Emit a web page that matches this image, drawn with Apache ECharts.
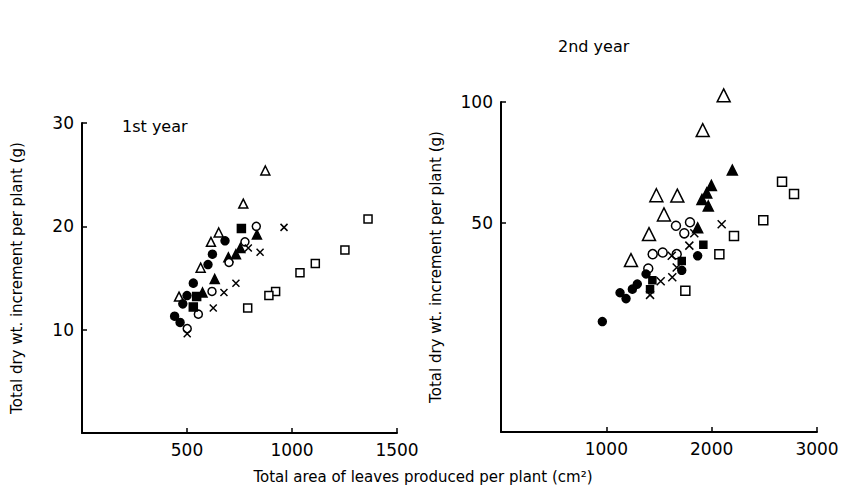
<!DOCTYPE html>
<html>
<head>
<meta charset="utf-8">
<script src="https://cdn.jsdelivr.net/npm/echarts@6/dist/echarts.min.js"></script>
<style>
  html, body { margin: 0; padding: 0; background: #fff; }
  #chart { width: 846px; height: 493px; }
</style>
</head>
<body>
<div id="chart"></div>
<script>
// 1st year: [leaf area cm2, dry wt increment g]
var openTri1 = [[873, 25.4], [768, 22.2], [651, 19.4], [614, 18.5], [565, 16.0], [462, 13.2]];
var fillTri1 = [[833, 19.2], [754, 17.9], [733, 17.3], [697, 17.0], [632, 14.9], [574, 13.6]];
var openCircle1 = [[830, 20.0], [776, 18.5], [700, 16.5], [619, 13.7], [554, 11.5], [501, 10.1]];
var fillCircle1 = [[681, 18.6], [621, 17.3], [600, 16.3], [530, 14.5], [500, 13.3], [480, 12.5], [441, 11.3], [467, 10.7]];
var openSquare1 = [[1362, 20.7], [1252, 17.7], [1111, 16.4], [1038, 15.5], [922, 13.7], [890, 13.3], [789, 12.1]];
var fillSquare1 = [[759, 19.8], [546, 13.2], [530, 12.2]];
var cross1 = [[962, 19.9], [792, 17.9], [848, 17.5], [733, 14.5], [676, 13.6], [625, 12.1], [501, 9.6]];

// 2nd year
var openTri2 = [[2114, 103.9], [1915, 85.1], [1475, 58.5], [1674, 58.4], [1547, 52.4], [1405, 46.8], [1234, 40.3]];
var fillTri2 = [[2196, 67.6], [1997, 61.9], [1953, 59.3], [1908, 57.1], [1968, 55.0], [1867, 48.5]];
var openCircle2 = [[1661, 49.1], [1794, 50.1], [1740, 47.0], [1440, 41.7], [1535, 42.1], [1668, 41.7], [1398, 38.4]];
var fillCircle2 = [[1867, 41.3], [1716, 38.0], [1377, 37.2], [1294, 35.1], [1247, 34.1], [1187, 32.3], [1130, 33.4], [962, 28.3]];
var openSquare2 = [[2668, 63.2], [2782, 58.9], [2490, 50.7], [2212, 46.3], [2073, 41.7], [1750, 33.8]];
var fillSquare2 = [[1921, 44.0], [1716, 40.1], [1437, 35.9], [1415, 34.1]];
var cross2 = [[2095, 49.5], [1835, 47.0], [1788, 43.8], [1621, 41.3], [1668, 38.6], [1626, 36.5], [1516, 35.7], [1415, 33.0]];

var yTicks1 = [10, 20, 30];
var yTicks2 = [50, 100];
var xTicks1 = [500, 1000, 1500];
var xTicks2 = [1000, 2000, 3000];

var font = 'DejaVu Sans';
var crossPath = 'path://M0,0L10,10M10,0L0,10';

// 2nd-year y axis is logarithmic; plot log10 values on a value axis
function logPts(arr) {
  return arr.map(function(p) { return [p[0], Math.log10(p[1])]; });
}

var styles = {
  openTri: { symbol: 'triangle', color: '#fff' },
  fillTri: { symbol: 'triangle', color: '#000' },
  openCircle: { symbol: 'circle', color: '#fff' },
  fillCircle: { symbol: 'circle', color: '#000' },
  openSquare: { symbol: 'rect', color: '#fff' },
  fillSquare: { symbol: 'rect', color: '#000' },
  cross: { symbol: crossPath, color: 'none' }
};

function mk(kind, data, idx, size) {
  var s = styles[kind];
  return {
    type: 'scatter',
    xAxisIndex: idx,
    yAxisIndex: idx,
    symbol: s.symbol,
    symbolSize: size,
    clip: false,
    itemStyle: { color: s.color, borderColor: '#000', borderWidth: 1.5, opacity: 1 },
    data: data
  };
}

var chart = echarts.init(document.getElementById('chart'), null, { renderer: 'svg' });

var plain = function(v) { return String(v); };

var axisCommon = {
  axisLine: { lineStyle: { color: '#000', width: 2 } },
  axisTick: { inside: true, length: 5, lineStyle: { color: '#000', width: 1.5 } },
  axisLabel: { color: '#000', fontFamily: font, fontSize: 17, margin: 8 },
  splitLine: { show: false },
  nameTextStyle: { color: '#000', fontFamily: font, fontSize: 15 }
};

function axis(extra) {
  return echarts.util.merge(echarts.util.clone(axisCommon), extra, true);
}

chart.setOption({
  animation: false,
  backgroundColor: '#fff',
  grid: [
    { left: 82, top: 123, width: 315, height: 310 },
    { left: 501, top: 102, width: 316, height: 330 }
  ],
  xAxis: [
    axis({
      gridIndex: 0, type: 'value', min: 0, max: 1500,
      axisTick: { customValues: xTicks1 },
      axisLabel: { customValues: xTicks1, formatter: plain }
    }),
    axis({
      gridIndex: 1, type: 'value', min: 0, max: 3000,
      axisTick: { customValues: xTicks2 },
      axisLabel: { customValues: xTicks2, formatter: plain }
    })
  ],
  yAxis: [
    axis({
      gridIndex: 0, type: 'value', min: 0, max: 30,
      name: 'Total dry wt. increment per plant (g)',
      nameLocation: 'middle', nameGap: 58, nameRotate: 90,
      axisTick: { customValues: yTicks1 },
      axisLabel: { customValues: yTicks1, formatter: plain }
    }),
    axis({
      gridIndex: 1, type: 'value', min: Math.log10(15), max: 2,
      name: 'Total dry wt. increment per plant (g)',
      nameLocation: 'middle', nameGap: 58, nameRotate: 90,
      axisTick: { customValues: yTicks2.map(Math.log10) },
      axisLabel: {
        customValues: yTicks2.map(Math.log10),
        formatter: function(v) { return String(Math.round(Math.pow(10, v))); }
      }
    })
  ],
  graphic: [
    { type: 'text', left: 122, top: 118, style: { text: '1st year', fill: '#000', font: '16px "DejaVu Sans"' } },
    { type: 'text', left: 558, top: 38, style: { text: '2nd year', fill: '#000', font: '16px "DejaVu Sans"' } },
    { type: 'text', left: 'center', top: 469, style: { text: 'Total area of leaves produced per plant (cm²)', fill: '#000', font: '15px "DejaVu Sans"' } }
  ],
  series: [
    mk('openTri', openTri1, 0, 9),
    mk('fillTri', fillTri1, 0, 9),
    mk('openCircle', openCircle1, 0, 8),
    mk('fillCircle', fillCircle1, 0, 8),
    mk('openSquare', openSquare1, 0, 8),
    mk('fillSquare', fillSquare1, 0, 8),
    mk('cross', cross1, 0, 7),
    mk('openTri', logPts(openTri2), 1, 13),
    mk('fillTri', logPts(fillTri2), 1, 10),
    mk('openCircle', logPts(openCircle2), 1, 9),
    mk('fillCircle', logPts(fillCircle2), 1, 8),
    mk('openSquare', logPts(openSquare2), 1, 9),
    mk('fillSquare', logPts(fillSquare2), 1, 7),
    mk('cross', logPts(cross2), 1, 8)
  ]
});
</script>
</body>
</html>
